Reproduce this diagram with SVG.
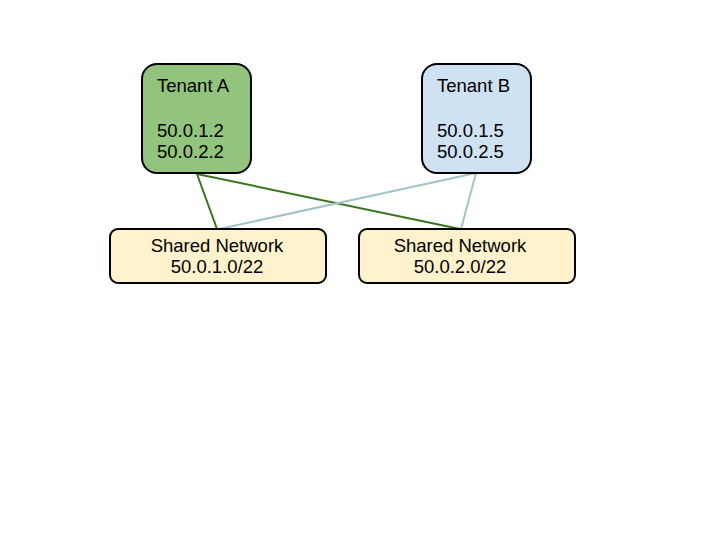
<svg xmlns="http://www.w3.org/2000/svg" width="720" height="540" viewBox="0 0 720 540">
<style>
.node{stroke:#000;stroke-width:2}
.t{font-family:"Liberation Sans",Arial,sans-serif;font-size:18.5px;fill:#000}
.c{text-anchor:middle}
.g{stroke:#38761d;stroke-width:2;fill:none}
.b{stroke:#a2c4c9;stroke-width:2;fill:none}
</style>
<rect width="720" height="540" fill="#fff"/>
<g id="connectors">
<line class="g" x1="197" y1="174" x2="217" y2="229"/>
<line class="g" x1="197" y1="174" x2="460" y2="229"/>
<line class="b" x1="476" y1="173" x2="219" y2="229"/>
<line class="b" x1="476" y1="173" x2="461" y2="229"/>
</g>
<g id="tenantA">
<rect class="node" x="142" y="64" width="109" height="109" rx="15" fill="#93c47d"/>
<text class="t" x="157" y="92">Tenant A</text>
<text class="t" x="157" y="137">50.0.1.2</text>
<text class="t" x="157" y="158">50.0.2.2</text>
</g>
<g id="tenantB">
<rect class="node" x="422" y="64" width="109" height="109" rx="15" fill="#cfe2f3"/>
<text class="t" x="437" y="92">Tenant B</text>
<text class="t" x="437" y="137">50.0.1.5</text>
<text class="t" x="437" y="158">50.0.2.5</text>
</g>
<g id="net1">
<rect class="node" x="110" y="229" width="216" height="54" rx="8" fill="#fff2cc"/>
<text class="t c" x="217" y="252">Shared Network</text>
<text class="t c" x="217" y="273">50.0.1.0/22</text>
</g>
<g id="net2">
<rect class="node" x="359" y="229" width="216" height="54" rx="8" fill="#fff2cc"/>
<text class="t c" x="460" y="252">Shared Network</text>
<text class="t c" x="460" y="273">50.0.2.0/22</text>
</g>
</svg>
